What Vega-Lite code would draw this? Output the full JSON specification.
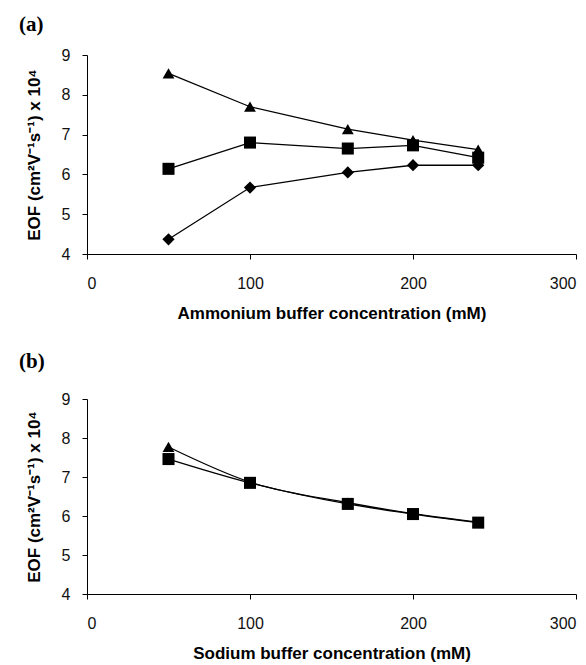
{
  "$schema": "https://vega.github.io/schema/vega-lite/v6.json",
  "padding": {"left": 19, "top": 14, "right": 3, "bottom": 1},
  "background": "white",
  "spacing": 30,
  "config": {
    "view": {"stroke": null},
    "axis": {
      "domainColor": "black",
      "tickColor": "black",
      "tickSize": 5,
      "grid": false,
      "labelFont": "Liberation Sans",
      "labelFontSize": 16,
      "labelColor": "#111",
      "titleFont": "Liberation Sans",
      "titleFontSize": 17,
      "titleFontWeight": "bold",
      "titleColor": "black"
    },
    "title": {"font": "Liberation Serif", "fontSize": 21, "fontWeight": "bold", "color": "black", "anchor": "start", "frame": "bounds"}
  },
  "data": {"values": [
    {"panel": "a", "series": "triangle", "conc": 50, "eof": 8.54},
    {"panel": "a", "series": "triangle", "conc": 100, "eof": 7.70},
    {"panel": "a", "series": "triangle", "conc": 160, "eof": 7.14},
    {"panel": "a", "series": "triangle", "conc": 200, "eof": 6.86},
    {"panel": "a", "series": "triangle", "conc": 240, "eof": 6.62},
    {"panel": "a", "series": "square", "conc": 50, "eof": 6.14},
    {"panel": "a", "series": "square", "conc": 100, "eof": 6.80},
    {"panel": "a", "series": "square", "conc": 160, "eof": 6.65},
    {"panel": "a", "series": "square", "conc": 200, "eof": 6.73},
    {"panel": "a", "series": "square", "conc": 240, "eof": 6.42},
    {"panel": "a", "series": "diamond", "conc": 50, "eof": 4.37},
    {"panel": "a", "series": "diamond", "conc": 100, "eof": 5.67},
    {"panel": "a", "series": "diamond", "conc": 160, "eof": 6.05},
    {"panel": "a", "series": "diamond", "conc": 200, "eof": 6.23},
    {"panel": "a", "series": "diamond", "conc": 240, "eof": 6.23},
    {"panel": "b", "series": "triangle", "conc": 50, "eof": 7.77},
    {"panel": "b", "series": "triangle", "conc": 100, "eof": 6.87},
    {"panel": "b", "series": "triangle", "conc": 160, "eof": 6.34},
    {"panel": "b", "series": "triangle", "conc": 200, "eof": 6.06},
    {"panel": "b", "series": "triangle", "conc": 240, "eof": 5.84},
    {"panel": "b", "series": "square", "conc": 50, "eof": 7.46},
    {"panel": "b", "series": "square", "conc": 100, "eof": 6.85},
    {"panel": "b", "series": "square", "conc": 160, "eof": 6.31},
    {"panel": "b", "series": "square", "conc": 200, "eof": 6.05},
    {"panel": "b", "series": "square", "conc": 240, "eof": 5.83}
  ]},
  "vconcat": [
    {
      "title": {"text": "(a)", "offset": 12, "dx": -6},
      "width": 489,
      "height": 199,
      "transform": [{"filter": "datum.panel == 'a'"}],
      "encoding": {
        "x": {"field": "conc", "type": "quantitative", "scale": {"domain": [0, 300], "nice": false}, "axis": {"values": [0, 100, 200, 300], "title": "Ammonium buffer concentration (mM)", "labelPadding": 16, "titlePadding": 14}},
        "y": {"field": "eof", "type": "quantitative", "scale": {"domain": [4, 9], "nice": false, "zero": false}, "axis": {"values": [4, 5, 6, 7, 8, 9], "title": "EOF (cm²V⁻¹s⁻¹) x 10⁴", "labelPadding": 12, "titlePadding": 18}}
      },
      "layer": [
        {"mark": {"type": "line", "color": "black", "strokeWidth": 1.3}, "encoding": {"detail": {"field": "series"}}},
        {"mark": {"type": "point", "filled": true, "opacity": 1, "color": "black"},
         "encoding": {
           "shape": {"field": "series", "type": "nominal", "scale": {"domain": ["triangle", "square", "diamond"], "range": ["triangle-up", "square", "diamond"]}, "legend": null},
           "size": {"field": "series", "type": "nominal", "scale": {"domain": ["triangle", "square", "diamond"], "range": [140, 150, 125]}, "legend": null}
         }}
      ]
    },
    {
      "title": {"text": "(b)", "offset": 19, "dx": -6},
      "width": 489,
      "height": 195,
      "transform": [{"filter": "datum.panel == 'b'"}],
      "encoding": {
        "x": {"field": "conc", "type": "quantitative", "scale": {"domain": [0, 300], "nice": false}, "axis": {"values": [0, 100, 200, 300], "title": "Sodium buffer concentration (mM)", "labelPadding": 16, "titlePadding": 14}},
        "y": {"field": "eof", "type": "quantitative", "scale": {"domain": [4, 9], "nice": false, "zero": false}, "axis": {"values": [4, 5, 6, 7, 8, 9], "title": "EOF (cm²V⁻¹s⁻¹) x 10⁴", "labelPadding": 12, "titlePadding": 18}}
      },
      "layer": [
        {"mark": {"type": "line", "color": "black", "strokeWidth": 1.3, "interpolate": "monotone"}, "encoding": {"detail": {"field": "series"}}},
        {"mark": {"type": "point", "filled": true, "opacity": 1, "color": "black"},
         "encoding": {
           "shape": {"field": "series", "type": "nominal", "scale": {"domain": ["triangle", "square", "diamond"], "range": ["triangle-up", "square", "diamond"]}, "legend": null},
           "size": {"field": "series", "type": "nominal", "scale": {"domain": ["triangle", "square", "diamond"], "range": [140, 150, 125]}, "legend": null}
         }}
      ]
    }
  ]
}
